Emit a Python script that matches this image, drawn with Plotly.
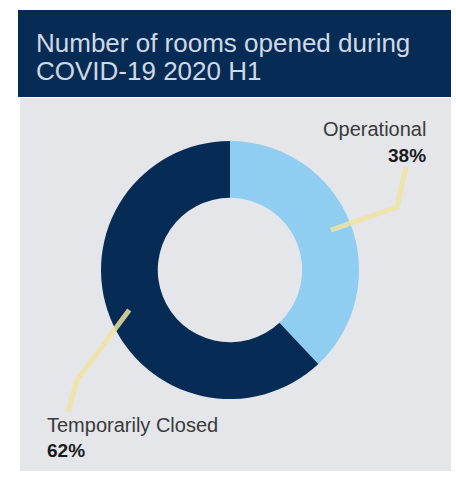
import math
import plotly.graph_objects as go

# Chart data
categories = ["Operational", "Temporarily Closed"]
values = [38, 62]
colors = ["#8fcdf1", "#062c55"]
title_lines = ["Number of rooms opened during", "COVID-19 2020 H1"]

W, H = 456, 480

# donut geometry in pixels
cx, cy, r_out = 230, 270, 129
hole = 0.56


def px(x):
    return x / W


def py(y):
    return 1 - y / H


fig = go.Figure()
fig.add_trace(go.Pie(
    labels=categories,
    values=values,
    hole=hole,
    sort=False,
    direction="clockwise",
    rotation=0,
    marker=dict(colors=colors, line=dict(width=0)),
    textinfo="none",
    hoverinfo="label+percent",
    showlegend=False,
    domain=dict(x=[px(cx - r_out), px(cx + r_out)],
                y=[py(cy + r_out), py(cy - r_out)]),
))

total = sum(values)
shares = [v / total for v in values]

# anchor points on each slice at its mid-angle
anchors = []
start = 0.0
for s in shares:
    mid = (start + s / 2) * 2 * math.pi
    rr = r_out * 0.84
    anchors.append((cx + rr * math.sin(mid), cy - rr * math.cos(mid)))
    start += s

shapes = [
    # grey panel
    dict(type="rect", xref="paper", yref="paper", layer="below",
         x0=px(20), x1=px(451), y0=py(471), y1=py(98),
         fillcolor="#e4e6ea", line=dict(width=0)),
    # title banner
    dict(type="rect", xref="paper", yref="paper", layer="below",
         x0=px(18), x1=px(451), y0=py(97), y1=py(10),
         fillcolor="#062c55", line=dict(width=0)),
]

leader_color = "rgba(240,226,160,0.85)"
# Operational leader: anchor -> elbow -> up to label
ax, ay = anchors[0]
shapes.append(dict(type="path", xref="paper", yref="paper", layer="above",
                   path=f"M {px(ax)} {py(ay)} L {px(397)} {py(207)} L {px(406)} {py(167)}",
                   line=dict(color=leader_color, width=5)))
# Temporarily Closed leader
ax, ay = anchors[1]
shapes.append(dict(type="path", xref="paper", yref="paper", layer="above",
                   path=f"M {px(ax)} {py(ay)} L {px(77)} {py(380)} L {px(68)} {py(412)}",
                   line=dict(color=leader_color, width=5)))

pct = [f"{round(s * 100)}%" for s in shares]
font_family = "Liberation Sans, Arial, sans-serif"
annotations = [
    dict(text=title_lines[0], x=px(34), y=py(43), xanchor="left", yanchor="middle",
         font=dict(size=26, color="#d0d8e4", family=font_family)),
    dict(text=title_lines[1], x=px(34), y=py(71), xanchor="left", yanchor="middle",
         font=dict(size=26, color="#d0d8e4", family=font_family)),
    dict(text=categories[0], x=px(428), y=py(129), xanchor="right", yanchor="middle",
         font=dict(size=20, color="#3a3a3a", family=font_family)),
    dict(text=f"<b>{pct[0]}</b>", x=px(428), y=py(155), xanchor="right", yanchor="middle",
         font=dict(size=19, color="#1a1a1a", family=font_family)),
    dict(text=categories[1], x=px(45), y=py(425), xanchor="left", yanchor="middle",
         font=dict(size=20, color="#3a3a3a", family=font_family)),
    dict(text=f"<b>{pct[1]}</b>", x=px(45), y=py(450), xanchor="left", yanchor="middle",
         font=dict(size=19, color="#1a1a1a", family=font_family)),
]
for a in annotations:
    a.update(xref="paper", yref="paper", showarrow=False)

fig.update_layout(
    width=W, height=H,
    margin=dict(l=0, r=0, t=0, b=0),
    paper_bgcolor="white",
    plot_bgcolor="white",
    shapes=shapes,
    annotations=annotations,
)

fig.write_html("out.html", config={"displayModeBar": False})
